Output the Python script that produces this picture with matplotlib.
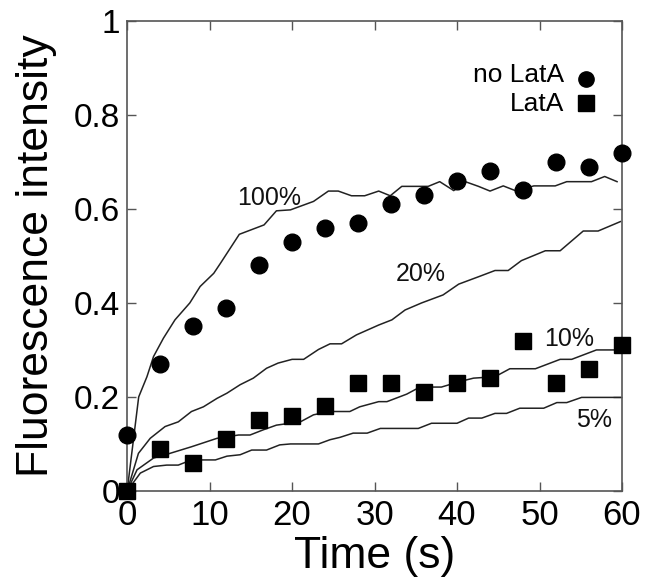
import matplotlib
matplotlib.use("Agg")
import matplotlib.pyplot as plt

plt.rcParams['font.family'] = ['Liberation Sans', 'DejaVu Sans']

# measured points (every 4 s)
t_pts = [0, 4, 8, 12, 16, 20, 24, 28, 32, 36, 40, 44, 48, 52, 56, 60]
no_lata = [0.12, 0.27, 0.35, 0.39, 0.48, 0.53, 0.56, 0.57, 0.61, 0.63,
           0.66, 0.68, 0.64, 0.70, 0.69, 0.72]
lata = [0.0, 0.09, 0.06, 0.11, 0.15, 0.16, 0.18, 0.23, 0.23, 0.21,
        0.23, 0.24, 0.32, 0.23, 0.26, 0.31]

# simulated curves
t100 = [0, 1.4, 2.4, 3.2, 4.4, 5.8, 7.6, 8.85, 10.5, 11.3, 13.6, 16.6, 18.1,
        19.8, 22.6, 24.4, 25.6, 27.2, 28.8, 30.5, 31.9, 33.3, 36.5, 37.9,
        39.6, 41, 42.6, 44, 45.6, 47.2, 49.3, 51.9, 53.3, 56.3, 57.9, 59.4]
f100 = [0, 0.20, 0.243, 0.286, 0.325, 0.364, 0.40, 0.435, 0.463, 0.484,
        0.546, 0.566, 0.596, 0.598, 0.616, 0.638, 0.638, 0.628, 0.628, 0.638,
        0.628, 0.648, 0.648, 0.658, 0.639, 0.658, 0.648, 0.638, 0.649, 0.638,
        0.649, 0.649, 0.658, 0.658, 0.669, 0.658]

t20 = [0, 1.37, 2.8, 4.6, 6.2, 7.8, 9.25, 10.9, 12.1, 13.7, 15.3, 16.9, 18.3,
       20, 21.4, 23.2, 24.6, 26, 27.8, 30.5, 32.1, 33.7, 35.7, 38.3, 40.2,
       42.8, 44.6, 46.2, 47.8, 50.7, 52.5, 55.3, 57.1, 59.8]
f20 = [0, 0.08, 0.112, 0.137, 0.147, 0.169, 0.179, 0.197, 0.208, 0.226, 0.24,
       0.261, 0.272, 0.28, 0.28, 0.301, 0.313, 0.313, 0.332, 0.353, 0.364,
       0.385, 0.40, 0.417, 0.44, 0.457, 0.469, 0.469, 0.49, 0.511, 0.511,
       0.553, 0.553, 0.573]

t10 = [0, 1.2, 3.2, 5.2, 7.8, 10.9, 13.5, 14.9, 16.5, 18.1, 21, 22.6, 24.6,
       27, 28.2, 30.5, 31.5, 33.9, 35.5, 38.1, 40.4, 42, 44.6, 46.4, 49.5,
       52.5, 53.9, 56.9, 59.5]
f10 = [0, 0.045, 0.07, 0.08, 0.094, 0.112, 0.119, 0.119, 0.13, 0.14, 0.147,
       0.162, 0.169, 0.169, 0.179, 0.19, 0.19, 0.206, 0.221, 0.221, 0.233,
       0.24, 0.243, 0.26, 0.26, 0.28, 0.28, 0.30, 0.30]

t5 = [0, 1.6, 3.2, 4.8, 6.2, 7.8, 10.7, 12.1, 13.7, 15.1, 16.9, 18.5, 19.8,
      23.2, 24.6, 25.8, 27.4, 29.1, 30.7, 35.3, 36.9, 40, 41.4, 43, 44.6, 46,
      47.6, 50.5, 52.1, 53.3, 55.1, 59.8]
f5 = [0, 0.038, 0.052, 0.055, 0.055, 0.066, 0.066, 0.074, 0.077, 0.087,
      0.087, 0.098, 0.10, 0.10, 0.109, 0.114, 0.123, 0.123, 0.133, 0.133,
      0.144, 0.144, 0.155, 0.155, 0.165, 0.165, 0.176, 0.176, 0.188, 0.188,
      0.199, 0.199]

curve_labels = ['100%', '20%', '10%', '5%']
label_pos = [(17.2, 0.624), (35.6, 0.462), (53.6, 0.323), (56.6, 0.15)]

fig = plt.figure(figsize=(6.52, 5.81), dpi=100)
ax = fig.add_axes([0.195, 0.155, 0.759, 0.809])

line_col = '#222222'
for t, f in [(t100, f100), (t20, f20), (t10, f10), (t5, f5)]:
    ax.plot(t, f, color=line_col, lw=1.1)

ax.plot(t_pts, no_lata, 'o', color='black', ms=12, clip_on=False, zorder=5)
ax.plot(t_pts, lata, 's', color='black', ms=11.5, clip_on=False, zorder=5)

for lab, (x, y) in zip(curve_labels, label_pos):
    ax.text(x, y, lab, fontsize=18, ha='center', va='center', color='#111111')

# legend drawn by hand like the original
ax.text(53, 0.885, 'no LatA', fontsize=19, ha='right', va='center')
ax.text(53, 0.823, 'LatA', fontsize=19, ha='right', va='center')
ax.plot([55.6], [0.877], 'o', color='black', ms=11)
ax.plot([55.6], [0.826], 's', color='black', ms=11)

ax.set_xlim(0, 60)
ax.set_ylim(0, 1)
ax.set_xticks([0, 10, 20, 30, 40, 50, 60])
ax.set_yticks([0, 0.2, 0.4, 0.6, 0.8, 1])
ax.set_yticklabels(['0', '0.2', '0.4', '0.6', '0.8', '1'])
ax.tick_params(direction='in', length=6.5, width=1, color='#555555',
               top=True, right=True, labelsize=24, pad=6)
ax.tick_params(axis='x', labelsize=25)
ax.tick_params(axis='y', pad=5)
for s in ax.spines.values():
    s.set_color('#555555')
    s.set_linewidth(1.2)

ax.set_xlabel('Time (s)', fontsize=32, labelpad=3)
ax.set_ylabel('Fluorescence intensity', fontsize=32, labelpad=12)

fig.savefig('out.png', dpi=100)
